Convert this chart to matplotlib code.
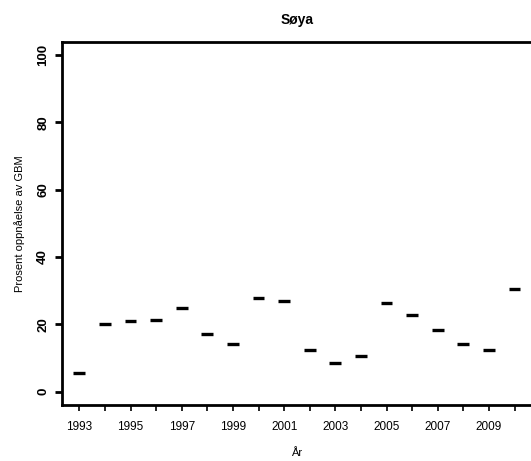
import numpy as np
import matplotlib
matplotlib.use("Agg")
import matplotlib.pyplot as plt

years = np.arange(1993, 2011)
values = [5.5, 20.0, 21.0, 21.2, 24.9, 17.2, 14.0, 27.7, 27.0,
          12.2, 8.5, 10.5, 26.4, 22.8, 18.4, 14.2, 12.4, 30.6]
yticks = [0, 20, 40, 60, 80, 100]

plt.rcParams['font.family'] = ['Liberation Sans', 'DejaVu Sans']

fig = plt.figure(figsize=(5.31, 4.61), dpi=100)
ax = fig.add_axes([0.1162, 0.1215, 0.886, 0.788])

# one value per year -> boxplot collapses to a flat median bar
ax.hlines(values, years - 0.23, years + 0.23, colors='black', lw=2.4)

ax.set_xlim(1992.31, 2010.69)
ax.set_ylim(-4, 104)

ax.set_xticks(years)
ax.set_xticklabels([str(y) if y % 2 == 1 else '' for y in years], fontsize=8.5)
ax.set_yticks(yticks)
ax.set_yticklabels([str(v) for v in yticks], rotation=90, va='center',
                   fontsize=9.5, fontweight='bold')

for s in ['left', 'bottom', 'top', 'right']:
    ax.spines[s].set_linewidth(2)
ax.tick_params(axis='x', direction='out', length=4.5, width=1.2, pad=7)
ax.tick_params(axis='y', direction='out', length=5, width=2, pad=4)

ax.set_title('Søya', fontsize=10, fontweight='bold', pad=13)
ax.set_xlabel('År', fontsize=8, labelpad=11)
ax.set_ylabel('Prosent oppnåelse av GBM', fontsize=8, labelpad=9)

fig.savefig('out.png', dpi=100)
